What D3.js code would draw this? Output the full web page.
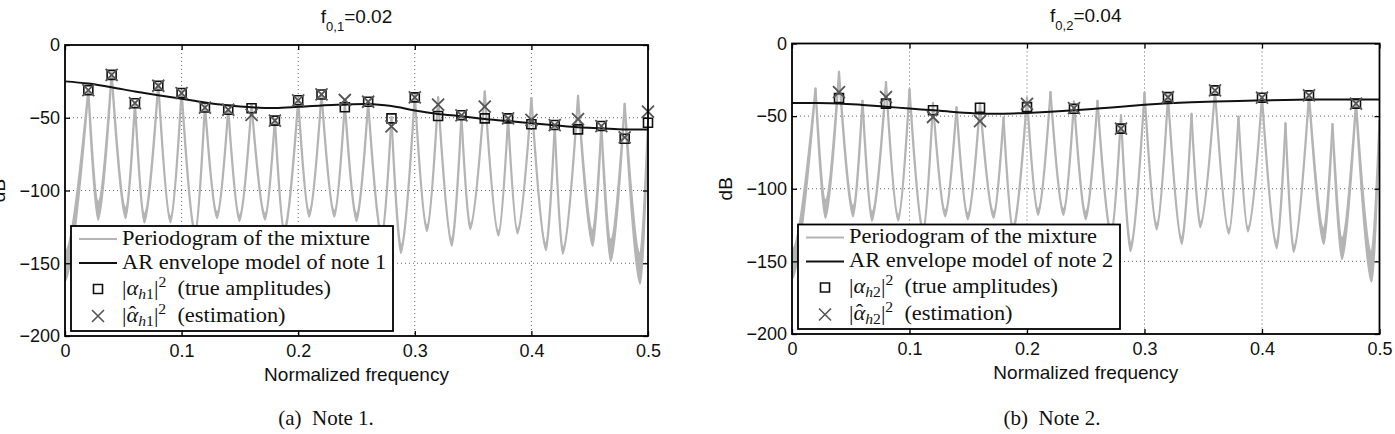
<!DOCTYPE html>
<html>
<head>
<meta charset="utf-8">
<script src="https://cdn.jsdelivr.net/npm/d3@7"></script>
<style>
  body { margin: 0; background: #fff; }
  svg { display: block; }
</style>
</head>
<body>
<div id="canvasRoot"></div>
<script>
// ---------- values ----------
// harmonics of note 1 (f0 = 0.02) and note 2 (f0 = 0.04)
const harmonicFreq1 = [0.02, 0.04, 0.06, 0.08, 0.10, 0.12, 0.14, 0.16, 0.18, 0.20, 0.22, 0.24, 0.26,
                       0.28, 0.30, 0.32, 0.34, 0.36, 0.38, 0.40, 0.42, 0.44, 0.46, 0.48, 0.50];
const harmonicFreq2 = [0.04, 0.08, 0.12, 0.16, 0.20, 0.24, 0.28, 0.32, 0.36, 0.40, 0.44, 0.48];

// |alpha_h|^2 true and estimated (dB)
const note1True = [-31, -20.5, -40, -28, -33, -43, -44.5, -43.5, -52, -38, -34, -42.8, -39,
                   -50.4, -36, -48.8, -48.3, -50.4, -50.4, -54.5, -55, -58, -55.7, -64.4, -53.4];
const note1Est  = [-31, -20.5, -40, -28, -33, -43, -44.5, -48, -52, -38, -34, -37.8, -39,
                   -56, -36, -41, -48.3, -42.4, -50.4, -51.5, -55, -51, -55.7, -63.5, -45.8];
const note2True = [-37.6, -41.4, -46, -44.2, -43.8, -44.9, -58.6, -36.9, -32.3, -37.3, -35.7, -41.4];
const note2Est  = [-33.5, -36.9, -50.6, -53.4, -41.5, -44.5, -58.6, -37, -32.3, -37.3, -35.7, -41.4];

// AR envelopes, sampled every 0.02
const envelopeFreq = [0, 0.02, 0.04, 0.06, 0.08, 0.10, 0.12, 0.14, 0.16, 0.18, 0.20, 0.22, 0.24,
                      0.26, 0.28, 0.30, 0.32, 0.34, 0.36, 0.38, 0.40, 0.42, 0.44, 0.46, 0.48, 0.50];
const note1Envelope = [-25, -26.5, -29, -32, -34.5, -37, -39.5, -41.5, -42.8, -43.3, -42.5, -41.5, -41,
                       -40.5, -42, -45, -47.4, -49, -50.9, -52.2, -53.8, -55.2, -56.6, -57.3, -58, -58];
const note2Envelope = [-41, -41, -41.3, -42.3, -43.5, -44.8, -46, -47.3, -48.2, -48.3, -47.8, -47, -46,
                       -44.8, -43.5, -42.2, -41.2, -40.5, -40, -39.6, -39.2, -38.9, -38.6, -38.5, -38.5, -38.5];

// periodogram of the mixture: spike tops at harmonicFreq1, valleys in between
const periodogramPeak = [-31, -19.5, -39.5, -26.5, -31.5, -41, -44, -41, -51, -37.5, -33.5, -40, -39.5,
                         -49.5, -34, -36, -48.5, -32, -50.3, -36.5, -55, -35, -55.5, -40.5, -53];
const valleyFreq  = [0, 0.0284, 0.052, 0.068, 0.0904, 0.1116, 0.1304, 0.1496, 0.1716, 0.188, 0.2094, 0.231,
                     0.25, 0.2716, 0.288, 0.3104, 0.3318, 0.3474, 0.3718, 0.388, 0.4126, 0.4268, 0.4526, 0.468, 0.4932];
const valleyUpper = [-142, -108, -112, -116, -118, -126, -115, -117, -116, -125, -114, -114, -116,
                     -128, -138, -124, -134, -123.5, -128, -126.5, -137, -140, -128, -134, -144];
const valleyLower = [-162, -120, -119, -122, -122, -131, -119, -121, -120, -130, -118, -118, -121,
                     -133, -143, -128, -138, -126.5, -131, -129.5, -141, -143.5, -138, -148.5, -164];

const xTicks = [0, 0.1, 0.2, 0.3, 0.4, 0.5];
const yTicks = [0, -50, -100, -150, -200];

// ---------- layout ----------
const W = 1395, H = 434;
const GREY = "#b4b4b4";
const SANS = "'Liberation Sans', Arial, Helvetica, sans-serif";
const SERIF = "'Liberation Serif', 'Times New Roman', serif";

const panels = [
  {left: 65, right: 648, top: 45, bottom: 336, sub: "0,1", f0: "=0.02", note: "1",
   caption: "(a)  Note 1.", captionX: 326,
   freq: harmonicFreq1, trueAmp: note1True, estAmp: note1Est, env: note1Envelope},
  {left: 792, right: 1379.5, top: 43.5, bottom: 334, sub: "0,2", f0: "=0.04", note: "2",
   caption: "(b)  Note 2.", captionX: 1052,
   freq: harmonicFreq2, trueAmp: note2True, estAmp: note2Est, env: note2Envelope}
];

const svg = d3.select("#canvasRoot").append("svg")
  .attr("width", W)
  .attr("height", H)
  .style("font-family", SANS);

svg.append("rect").attr("width", W).attr("height", H).attr("fill", "#fff");

panels.forEach((p, i) => drawPanel(p, i));


function squarePath(cx, cy, s) {
  return `M${cx - s},${cy - s}H${cx + s}V${cy + s}H${cx - s}Z`;
}
function crossPath(cx, cy, s) {
  return `M${cx - s},${cy - s}L${cx + s},${cy + s}M${cx - s},${cy + s}L${cx + s},${cy - s}`;
}

//One valley of the periodogram: from spike a down to the trough and up to spike b,
//filled between the upper and the lower trough (the ripple band)
function valleyPath(ax, ay, tx, tyU, tyL, bx, by) {
  const k = 0.32;
  const p = d3.path();
  if (ax === null) p.moveTo(tx, tyU);
  else {
    p.moveTo(ax, ay);
    p.quadraticCurveTo(tx + k * (ax - tx), tyU, tx, tyU);
  }
  p.quadraticCurveTo(tx + k * (bx - tx), tyU, bx, by);
  p.quadraticCurveTo(tx + k * (bx - tx), tyL, tx, tyL);
  if (ax !== null) p.quadraticCurveTo(tx + k * (ax - tx), tyL, ax, ay);
  p.closePath();
  return p.toString();
}


function drawPanel(p, idx) {
  const x = d3.scaleLinear().domain([0, 0.5]).range([p.left, p.right]);
  const y = d3.scaleLinear().domain([-200, 0]).range([p.bottom, p.top]);
  const g = svg.append("g");

  const clipId = "clip" + idx;
  g.append("clipPath").attr("id", clipId)
    .append("rect")
    .attr("x", p.left).attr("y", p.top)
    .attr("width", p.right - p.left).attr("height", p.bottom - p.top);

  //Grid (dotted)
  g.append("g")
    .selectAll("line.gx")
    .data(xTicks.slice(1, -1))
    .enter().append("line")
      .attr("x1", d => x(d)).attr("x2", d => x(d))
      .attr("y1", p.top).attr("y2", p.bottom)
      .attr("stroke", "#666").attr("stroke-width", 1).attr("stroke-dasharray", "1,3");
  g.append("g")
    .selectAll("line.gy")
    .data(yTicks.slice(1, -1))
    .enter().append("line")
      .attr("y1", d => y(d)).attr("y2", d => y(d))
      .attr("x1", p.left).attr("x2", p.right)
      .attr("stroke", "#666").attr("stroke-width", 1).attr("stroke-dasharray", "1,3");

  //Periodogram
  const spec = g.append("g").attr("clip-path", `url(#${clipId})`);
  spec.selectAll("path.valley")
    .data(valleyFreq)
    .enter().append("path")
      .attr("d", (t, i) => valleyPath(
        i === 0 ? null : x(harmonicFreq1[i - 1]),
        i === 0 ? null : y(periodogramPeak[i - 1]),
        x(t), y(valleyUpper[i]), y(valleyLower[i]),
        x(harmonicFreq1[i]), y(periodogramPeak[i])))
      .attr("fill", GREY)
      .attr("stroke", GREY)
      .attr("stroke-width", 2.2)
      .attr("stroke-linejoin", "round");

  //AR envelope
  const line = d3.line()
    .x((d, i) => x(envelopeFreq[i]))
    .y(d => y(d))
    .curve(d3.curveCatmullRom.alpha(0.5));
  g.append("path")
    .attr("d", line(p.env))
    .attr("fill", "none")
    .attr("stroke", "#111")
    .attr("stroke-width", 2);

  //Markers
  g.append("g").selectAll("path")
    .data(p.trueAmp)
    .enter().append("path")
      .attr("d", (d, i) => squarePath(x(p.freq[i]), y(d), 4.5))
      .attr("fill", "none")
      .attr("stroke", "#111")
      .attr("stroke-width", 1.6);
  g.append("g").selectAll("path")
    .data(p.estAmp)
    .enter().append("path")
      .attr("d", (d, i) => crossPath(x(p.freq[i]), y(d), 6))
      .attr("fill", "none")
      .attr("stroke", "#555")
      .attr("stroke-width", 1.8);

  //Axes: inward ticks on all four sides
  const fmtX = d3.format("");
  const axB = g.append("g").attr("transform", `translate(0,${p.bottom})`)
    .call(d3.axisBottom(x).tickValues(xTicks).tickSize(-5).tickPadding(8).tickFormat(fmtX));
  const axT = g.append("g").attr("transform", `translate(0,${p.top})`)
    .call(d3.axisTop(x).tickValues(xTicks).tickSize(-5).tickFormat(""));
  const axL = g.append("g").attr("transform", `translate(${p.left},0)`)
    .call(d3.axisLeft(y).tickValues(yTicks).tickSize(-5).tickPadding(5).tickFormat(d3.format("d")));
  const axR = g.append("g").attr("transform", `translate(${p.right},0)`)
    .call(d3.axisRight(y).tickValues(yTicks).tickSize(-5).tickFormat(""));
  [axB, axT, axL, axR].forEach(a => {
    a.select(".domain").remove();
    a.selectAll(".tick line").attr("stroke", "#000").attr("stroke-width", 1.3);
    a.selectAll("text")
      .attr("fill", "#111")
      .style("font-family", SANS)
      .style("font-size", "18px");
  });
  axB.selectAll("text").attr("dy", "0.71em");

  g.append("rect")
    .attr("x", p.left).attr("y", p.top)
    .attr("width", p.right - p.left).attr("height", p.bottom - p.top)
    .attr("fill", "none")
    .attr("stroke", "#000")
    .attr("stroke-width", 1.8);

  //Labels
  const cx = (p.left + p.right) / 2;
  const title = g.append("text")
    .attr("x", cx).attr("y", p.top - 22)
    .attr("text-anchor", "middle")
    .style("font-size", "19px")
    .attr("fill", "#111");
  title.append("tspan").text("f");
  title.append("tspan").attr("dy", 8).style("font-size", "13px").text(p.sub);
  title.append("tspan").attr("dy", -8).text(p.f0);

  g.append("text")
    .attr("x", cx).attr("y", p.bottom + 45)
    .attr("text-anchor", "middle")
    .style("font-size", "19px")
    .attr("fill", "#111")
    .text("Normalized frequency");

  //y label sits where the reference puts it (half cut at the page edge on the left panel)
  g.append("text")
    .attr("transform", `translate(${p.left - 60},${(p.top + p.bottom) / 2}) rotate(-90)`)
    .attr("text-anchor", "middle")
    .style("font-size", "19px")
    .attr("fill", "#111")
    .text("dB");

  g.append("text")
    .attr("x", p.captionX).attr("y", 425)
    .attr("text-anchor", "middle")
    .style("font-family", SERIF)
    .style("font-size", "21px")
    .attr("fill", "#111")
    .attr("xml:space", "preserve")
    .text(p.caption);

  drawLegend(g, p);
}


function drawLegend(g, p) {
  const lx = p.left + 6, ly = p.top + 181;
  const lw = 322, lh = p.bottom - 5 - ly;
  const lg = g.append("g").attr("transform", `translate(${lx},${ly})`);
  lg.append("rect")
    .attr("width", lw).attr("height", lh)
    .attr("fill", "#fff")
    .attr("stroke", "#000")
    .attr("stroke-width", 1.8);

  const rows = [13, 37, 63, 90];
  lg.append("line").attr("x1", 8).attr("x2", 46).attr("y1", rows[0]).attr("y2", rows[0])
    .attr("stroke", GREY).attr("stroke-width", 2);
  lg.append("line").attr("x1", 8).attr("x2", 46).attr("y1", rows[1]).attr("y2", rows[1])
    .attr("stroke", "#111").attr("stroke-width", 2);
  lg.append("path").attr("d", squarePath(27, rows[2], 4.5))
    .attr("fill", "none").attr("stroke", "#111").attr("stroke-width", 1.6);
  lg.append("path").attr("d", crossPath(27, rows[3], 6))
    .attr("fill", "none").attr("stroke", "#555").attr("stroke-width", 1.6);

  const texts = lg.append("g")
    .attr("transform", "translate(51,0) scale(1.12,1)")
    .style("font-family", SERIF)
    .style("font-size", "20px")
    .attr("fill", "#111");
  texts.append("text").attr("y", rows[0] + 6).text("Periodogram of the mixture");
  texts.append("text").attr("y", rows[1] + 6).text("AR envelope model of note " + p.note);

  [false, true].forEach((hat, i) => {
    const t = texts.append("text").attr("y", rows[2 + i] + 6).attr("xml:space", "preserve");
    t.append("tspan").text("|");
    t.append("tspan").style("font-style", "italic").text("α");
    if (hat) {
      t.append("tspan").attr("dx", -8.5).attr("dy", -1).text("\u02C6");
      t.append("tspan").attr("dx", 1.8).attr("dy", 5).style("font-size", "14px").style("font-style", "italic").text("h");
    } else {
      t.append("tspan").attr("dy", 4).style("font-size", "14px").style("font-style", "italic").text("h");
    }
    t.append("tspan").style("font-size", "14px").text(p.note);
    t.append("tspan").attr("dy", -4).text("|");
    t.append("tspan").attr("dy", -8).style("font-size", "14px").text("2");
    t.append("tspan").attr("dy", 8).text(hat ? "  (estimation)" : "  (true amplitudes)");
  });
}
</script>
</body>
</html>
